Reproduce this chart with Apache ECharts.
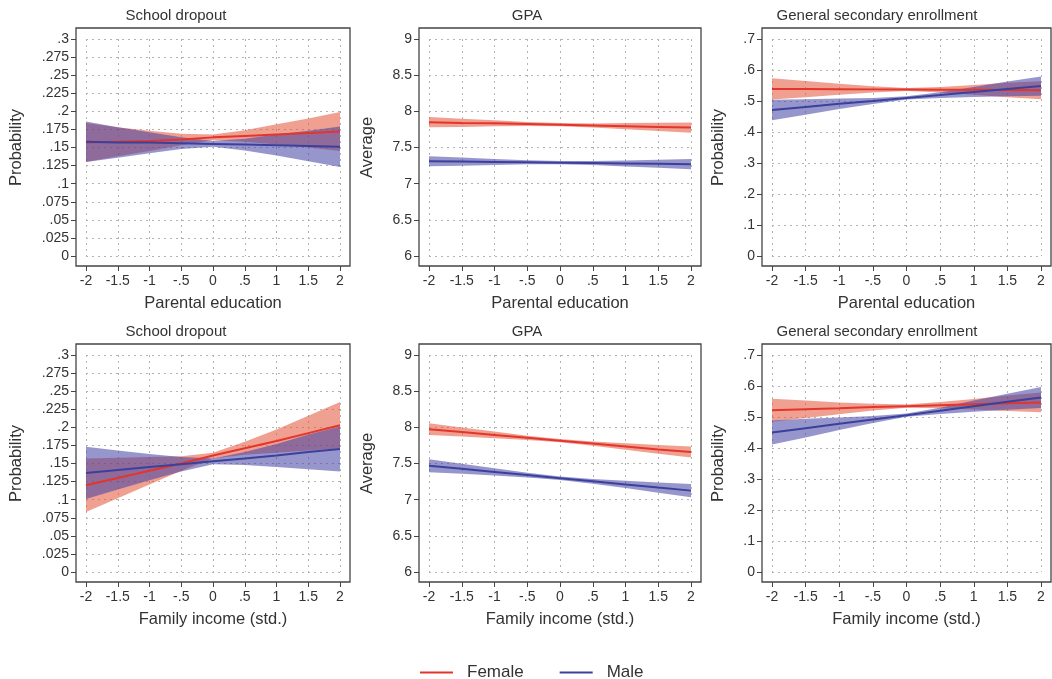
<!DOCTYPE html>
<html>
<head>
<meta charset="utf-8">
<title>Predicted outcomes by gender</title>
<script src="https://cdn.jsdelivr.net/npm/echarts@6/dist/echarts.min.js"></script>
<style>
  html, body { margin: 0; padding: 0; background: #fff; }
  #chart { width: 1052px; height: 679px; }
</style>
</head>
<body>
<div id="chart"></div>
<script>
// x positions (standardized predictor)
var xValues = [-2, -1.5, -1, -0.5, 0, 0.5, 1, 1.5, 2];

// y axis ranges: [min, max, step]
var dropoutRange = [0, 0.3, 0.025];
var gpaRange = [6, 9, 0.5];
var enrollRange = [0, 0.7, 0.1];
var xRange = [-2, 2, 0.5];

// ---- top row: parental education ----
var parDropoutFemale   = [0.157, 0.158, 0.159, 0.161, 0.164, 0.166, 0.168, 0.170, 0.172];
var parDropoutFemaleLo = [0.130, 0.138, 0.145, 0.153, 0.160, 0.158, 0.154, 0.150, 0.145];
var parDropoutFemaleHi = [0.184, 0.178, 0.173, 0.169, 0.168, 0.174, 0.182, 0.190, 0.199];
var parDropoutMale     = [0.158, 0.157, 0.157, 0.156, 0.155, 0.154, 0.153, 0.152, 0.151];
var parDropoutMaleLo   = [0.130, 0.136, 0.142, 0.148, 0.151, 0.146, 0.139, 0.131, 0.123];
var parDropoutMaleHi   = [0.186, 0.178, 0.171, 0.164, 0.159, 0.162, 0.168, 0.173, 0.179];

var parGpaFemale   = [7.850, 7.840, 7.835, 7.825, 7.815, 7.805, 7.795, 7.785, 7.775];
var parGpaFemaleLo = [7.780, 7.784, 7.793, 7.797, 7.793, 7.777, 7.753, 7.729, 7.705];
var parGpaFemaleHi = [7.920, 7.896, 7.877, 7.853, 7.837, 7.833, 7.837, 7.841, 7.845];
var parGpaMale     = [7.310, 7.305, 7.300, 7.295, 7.290, 7.285, 7.280, 7.275, 7.270];
var parGpaMaleLo   = [7.240, 7.249, 7.258, 7.267, 7.268, 7.257, 7.238, 7.219, 7.200];
var parGpaMaleHi   = [7.380, 7.361, 7.342, 7.323, 7.312, 7.313, 7.322, 7.331, 7.340];

var parEnrollFemale   = [0.539, 0.5385, 0.538, 0.5375, 0.537, 0.5365, 0.536, 0.5355, 0.535];
var parEnrollFemaleLo = [0.505, 0.5125, 0.520, 0.5275, 0.532, 0.5275, 0.520, 0.5125, 0.506];
var parEnrollFemaleHi = [0.573, 0.5645, 0.556, 0.5475, 0.542, 0.5455, 0.552, 0.5585, 0.564];
var parEnrollMale     = [0.471, 0.481, 0.491, 0.500, 0.510, 0.519, 0.529, 0.539, 0.548];
var parEnrollMaleLo   = [0.438, 0.456, 0.474, 0.490, 0.505, 0.510, 0.513, 0.515, 0.517];
var parEnrollMaleHi   = [0.504, 0.506, 0.508, 0.510, 0.515, 0.528, 0.545, 0.563, 0.579];

// ---- bottom row: family income ----
var incDropoutFemale   = [0.120, 0.130, 0.140, 0.150, 0.161, 0.171, 0.181, 0.192, 0.203];
var incDropoutFemaleLo = [0.083, 0.102, 0.121, 0.140, 0.157, 0.162, 0.165, 0.168, 0.171];
var incDropoutFemaleHi = [0.157, 0.158, 0.159, 0.160, 0.165, 0.180, 0.197, 0.216, 0.235];
var incDropoutMale     = [0.137, 0.141, 0.145, 0.149, 0.153, 0.157, 0.161, 0.166, 0.170];
var incDropoutMaleLo   = [0.101, 0.114, 0.127, 0.139, 0.149, 0.148, 0.145, 0.142, 0.139];
var incDropoutMaleHi   = [0.173, 0.168, 0.163, 0.159, 0.157, 0.166, 0.177, 0.190, 0.201];

var incGpaFemale   = [7.975, 7.935, 7.895, 7.855, 7.815, 7.775, 7.735, 7.695, 7.660];
var incGpaFemaleLo = [7.895, 7.872, 7.849, 7.825, 7.793, 7.745, 7.690, 7.635, 7.584];
var incGpaFemaleHi = [8.055, 7.998, 7.941, 7.885, 7.837, 7.805, 7.780, 7.755, 7.736];
var incGpaMale     = [7.470, 7.427, 7.384, 7.340, 7.297, 7.254, 7.210, 7.167, 7.125];
var incGpaMaleLo   = [7.380, 7.357, 7.334, 7.307, 7.273, 7.221, 7.160, 7.097, 7.035];
var incGpaMaleHi   = [7.560, 7.497, 7.434, 7.373, 7.321, 7.287, 7.260, 7.237, 7.215];

var incEnrollFemale   = [0.522, 0.525, 0.528, 0.532, 0.535, 0.538, 0.541, 0.544, 0.547];
var incEnrollFemaleLo = [0.485, 0.497, 0.509, 0.521, 0.530, 0.528, 0.524, 0.519, 0.515];
var incEnrollFemaleHi = [0.559, 0.553, 0.547, 0.543, 0.540, 0.548, 0.558, 0.569, 0.579];
var incEnrollMale     = [0.450, 0.464, 0.478, 0.492, 0.506, 0.520, 0.535, 0.549, 0.563];
var incEnrollMaleLo   = [0.411, 0.434, 0.458, 0.481, 0.501, 0.510, 0.517, 0.523, 0.529];
var incEnrollMaleHi   = [0.489, 0.494, 0.498, 0.503, 0.511, 0.530, 0.553, 0.575, 0.597];

var panels = [
  { title: 'School dropout', xName: 'Parental education', yName: 'Probability', range: dropoutRange,
    f: [parDropoutFemale, parDropoutFemaleLo, parDropoutFemaleHi], m: [parDropoutMale, parDropoutMaleLo, parDropoutMaleHi] },
  { title: 'GPA', xName: 'Parental education', yName: 'Average', range: gpaRange,
    f: [parGpaFemale, parGpaFemaleLo, parGpaFemaleHi], m: [parGpaMale, parGpaMaleLo, parGpaMaleHi] },
  { title: 'General secondary enrollment', xName: 'Parental education', yName: 'Probability', range: enrollRange,
    f: [parEnrollFemale, parEnrollFemaleLo, parEnrollFemaleHi], m: [parEnrollMale, parEnrollMaleLo, parEnrollMaleHi] },
  { title: 'School dropout', xName: 'Family income (std.)', yName: 'Probability', range: dropoutRange,
    f: [incDropoutFemale, incDropoutFemaleLo, incDropoutFemaleHi], m: [incDropoutMale, incDropoutMaleLo, incDropoutMaleHi] },
  { title: 'GPA', xName: 'Family income (std.)', yName: 'Average', range: gpaRange,
    f: [incGpaFemale, incGpaFemaleLo, incGpaFemaleHi], m: [incGpaMale, incGpaMaleLo, incGpaMaleHi] },
  { title: 'General secondary enrollment', xName: 'Family income (std.)', yName: 'Probability', range: enrollRange,
    f: [incEnrollFemale, incEnrollFemaleLo, incEnrollFemaleHi], m: [incEnrollMale, incEnrollMaleLo, incEnrollMaleHi] }
];

// layout
var colLeft = [86, 429, 772];
var colWidth = [254, 262, 269];
var rowTop = [39, 355];
var plotHeight = 217;
var yNameGap = [51, 43, 35];
var titleX = [176, 527, 877];

var FONT = 'Liberation Sans, Arial, sans-serif';
var TEXT = '#333';
var RED = '#e3352b';
var BLUE = '#3b419b';
var RED_BAND = 'rgba(228, 82, 55, 0.55)';
var BLUE_BAND = 'rgba(64, 64, 164, 0.55)';
var GRID_DOTS = { type: [2, 4], color: '#b3b3b3' };

function fmt(v) {
  var s = String(Math.round(v * 1000) / 1000);
  return s.replace(/^0\./, '.').replace(/^-0\./, '-.');
}

// band polygon drawn once, on the first data item
function bandRenderer(lo, hi, fill) {
  return function (params, api) {
    if (params.dataIndex !== 0) return null;
    var pts = [];
    for (var i = 0; i < xValues.length; i++) pts.push(api.coord([xValues[i], hi[i]]));
    for (var j = xValues.length - 1; j >= 0; j--) pts.push(api.coord([xValues[j], lo[j]]));
    return { type: 'polygon', shape: { points: pts }, style: { fill: fill } };
  };
}

function pairs(arr) {
  return xValues.map(function (x, i) { return [x, arr[i]]; });
}

var grids = [], xAxes = [], yAxes = [], series = [], graphics = [];

panels.forEach(function (p, i) {
  var r = Math.floor(i / 3), c = i % 3;
  var left = colLeft[c], top = rowTop[r], w = colWidth[c];

  grids.push({ left: left, top: top, width: w, height: plotHeight });

  xAxes.push({
    gridIndex: i, type: 'value',
    min: xRange[0], max: xRange[1], interval: xRange[2],
    offset: 10,
    axisLine: { show: false, onZero: false },
    axisTick: { show: true, length: 5, lineStyle: { color: '#444' } },
    axisLabel: { margin: 8, fontSize: 14, color: TEXT, formatter: fmt },
    splitLine: { show: true, lineStyle: GRID_DOTS },
    name: p.xName, nameLocation: 'middle', nameGap: 29,
    nameTextStyle: { fontSize: 16.5, color: TEXT }
  });

  yAxes.push({
    gridIndex: i, type: 'value',
    min: p.range[0], max: p.range[1], interval: p.range[2],
    offset: 10,
    axisLine: { show: false, onZero: false },
    axisTick: { show: true, length: 5, lineStyle: { color: '#444' } },
    axisLabel: { margin: 7, fontSize: 14, color: TEXT, formatter: fmt },
    splitLine: { show: true, lineStyle: GRID_DOTS },
    name: p.yName, nameLocation: 'middle', nameGap: yNameGap[c],
    nameTextStyle: { fontSize: 16.5, color: TEXT }
  });

  series.push({
    type: 'custom', name: 'Female CI', xAxisIndex: i, yAxisIndex: i, silent: true, z: 1,
    data: xValues.map(function (x, k) { return [x, p.f[1][k], p.f[2][k]]; }),
    encode: { x: 0, y: [1, 2] },
    renderItem: bandRenderer(p.f[1], p.f[2], RED_BAND)
  });
  series.push({
    type: 'custom', name: 'Male CI', xAxisIndex: i, yAxisIndex: i, silent: true, z: 2,
    data: xValues.map(function (x, k) { return [x, p.m[1][k], p.m[2][k]]; }),
    encode: { x: 0, y: [1, 2] },
    renderItem: bandRenderer(p.m[1], p.m[2], BLUE_BAND)
  });
  series.push({
    type: 'line', name: 'Female', xAxisIndex: i, yAxisIndex: i, z: 3,
    data: pairs(p.f[0]), symbol: 'none', color: RED,
    lineStyle: { color: RED, width: 2 }
  });
  series.push({
    type: 'line', name: 'Male', xAxisIndex: i, yAxisIndex: i, z: 4,
    data: pairs(p.m[0]), symbol: 'none', color: BLUE,
    lineStyle: { color: BLUE, width: 2 }
  });

  // plot region frame
  graphics.push({
    type: 'rect', z: 10, silent: true,
    shape: { x: left - 10, y: top - 11, width: w + 20, height: plotHeight + 21 },
    style: { fill: 'none', stroke: '#444', lineWidth: 1.3 }
  });
  // panel title
  graphics.push({
    type: 'text', x: titleX[c], y: top - 23, silent: true,
    style: { text: p.title, fill: TEXT, font: '15px ' + FONT, align: 'center', verticalAlign: 'middle' }
  });
});

var chart = echarts.init(document.getElementById('chart'), null, { renderer: 'canvas' });
chart.setOption({
  animation: false,
  backgroundColor: '#fff',
  textStyle: { fontFamily: FONT },
  grid: grids,
  xAxis: xAxes,
  yAxis: yAxes,
  legend: {
    data: ['Female', 'Male'],
    left: 415, top: 659,
    icon: 'rect', itemWidth: 33, itemHeight: 2, itemGap: 36,
    textStyle: { fontSize: 17, color: TEXT, padding: [0, 0, 0, 9] }
  },
  graphic: graphics,
  series: series
});
window.addEventListener('resize', function () { chart.resize(); });
</script>
</body>
</html>
